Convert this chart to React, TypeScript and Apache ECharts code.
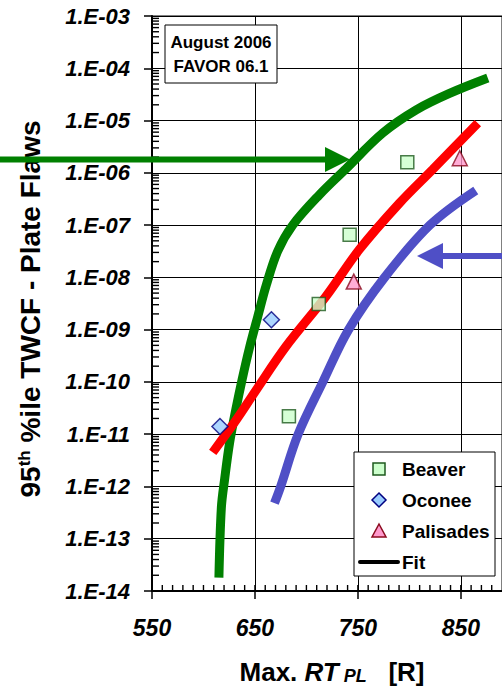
import React, { useEffect, useRef } from 'react';
import * as echarts from 'echarts';

// ---- data ----
const xTickValues = [550, 650, 750, 850];
const yDecadeExps = [-14, -13, -12, -11, -10, -9, -8, -7, -6, -5, -4, -3];

const beaverPts: [number, number][] = [
  [798, 1.6e-6],
  [742, 6.5e-8],
  [712, 3.1e-9],
  [683, 2.2e-11],
];
const oconeePts: [number, number][] = [
  [666, 1.55e-9],
  [616, 1.4e-11],
];
const palisadesPts: [number, number][] = [
  [849, 1.9e-6],
  [746, 8.3e-9],
];

const greenFit: [number, number][] = [
  [615, 1.8e-14], [617.4, 4.0e-13], [620.6, 1.4e-12], [625.5, 7.1e-12],
  [631.5, 3.0e-11], [637.5, 1.1e-10], [644.7, 4.5e-10], [652.8, 1.8e-9],
  [661, 7.1e-9], [672.2, 3.2e-8], [686.7, 1.0e-7], [712.6, 3.8e-7],
  [738.5, 1.2e-6], [774.3, 5.8e-6], [806.7, 1.6e-5], [839, 3.3e-5], [876.2, 6.5e-5],
];
const redFit: [number, number][] = [
  [609, 4.5e-12], [632, 1.9e-11], [651.4, 7.1e-11], [680.3, 4.8e-10],
  [718.9, 4.3e-9], [751.4, 3.4e-8], [790.2, 2.6e-7], [822.5, 1.15e-6], [866.5, 8.9e-6],
];
const blueFit: [number, number][] = [
  [669, 4.8e-13], [675, 1.0e-12], [692, 1.0e-11], [716, 1.0e-10],
  [741, 1.0e-9], [776, 1.0e-8], [820, 1.0e-7], [864.5, 4.6e-7],
];

const legendNames = ['Beaver', 'Oconee', 'Palisades', 'Fit'];
const noteLines = ['August 2006', 'FAVOR 06.1'];

const FONT = '"Liberation Sans", Arial, Helvetica, sans-serif';
const GREEN = '#008000';
const RED = '#FF0000';
const BLUE = '#4F4FC6';

const X_MIN = 550;
const X_MAX = 890;
const Y_MIN = 1e-14;
const Y_MAX = 1e-3;

const decadeValues = yDecadeExps.map((e) => Math.pow(10, e));
const minorYValues: number[] = [];
for (let e = -14; e < -3; e++) {
  for (let m = 2; m <= 9; m++) minorYValues.push(Number((m * Math.pow(10, e)).toPrecision(3)));
}
const minorXValues: number[] = [];
for (let v = 560; v < X_MAX; v += 10) minorXValues.push(v);

function fmtExp(v: number) {
  const e = Math.round(Math.log10(v));
  const a = Math.abs(e);
  return '1.E' + (e < 0 ? '-' : '+') + (a < 10 ? '0' + a : String(a));
}

export default function App() {
  const ref = useRef<HTMLDivElement>(null);
  useEffect(() => {
    if (!ref.current) return;
    const chart = echarts.init(ref.current, undefined, { renderer: 'svg' });
    const gridLeft = 152;
    const gridTop = 16;
    const gridW = 351;
    const gridH = 575;

    const legendX = 354, legendY = 452, legendW = 141, legendH = 124;
    const rowY = [469, 500, 531, 562];
    const symX = 379;
    const txtX = 402;

    const option: any = {
      animation: false,
      backgroundColor: '#fff',
      grid: {
        left: gridLeft, top: gridTop, width: gridW, height: gridH,
        show: true, borderColor: '#000', borderWidth: 1, backgroundColor: 'transparent',
      },
      xAxis: {
        type: 'value', min: X_MIN, max: X_MAX, position: 'bottom',
        axisLine: { show: true, onZero: false, lineStyle: { color: '#000', width: 2 } },
        axisTick: { show: true, inside: false, length: 8, customValues: xTickValues, lineStyle: { color: '#000', width: 1.5 } },
        axisLabel: {
          customValues: xTickValues, margin: 25, color: '#000', fontSize: 23,
          fontWeight: 'bold', fontStyle: 'italic', fontFamily: FONT,
        },
        splitLine: { show: true, lineStyle: { color: '#000', width: 1 } },
      },
      yAxis: {
        type: 'log', logBase: 10, min: Y_MIN, max: Y_MAX, position: 'left',
        axisLine: { show: true, onZero: false, lineStyle: { color: '#000', width: 2 } },
        axisTick: { show: true, inside: false, length: 8, customValues: decadeValues, lineStyle: { color: '#000', width: 1.5 } },
        axisLabel: {
          customValues: decadeValues, formatter: fmtExp, margin: 22, color: '#000',
          fontSize: 22, fontWeight: 'bold', fontStyle: 'italic', fontFamily: FONT,
        },
        splitLine: { show: true, lineStyle: { color: '#000', width: 1 } },
      },
      series: [
        {
          name: 'green fit', type: 'line', data: greenFit, smooth: 0.35, showSymbol: false,
          lineStyle: { color: GREEN, width: 9, cap: 'butt' }, z: 3,
        },
        {
          name: 'red fit', type: 'line', data: redFit, smooth: 0.35, showSymbol: false,
          lineStyle: { color: RED, width: 9, cap: 'butt' }, z: 3,
        },
        {
          name: 'blue fit', type: 'line', data: blueFit, smooth: 0.35, showSymbol: false,
          lineStyle: { color: BLUE, width: 9, cap: 'butt' }, z: 3,
        },
        {
          name: legendNames[0], type: 'scatter', data: beaverPts, symbol: 'rect', symbolSize: 13,
          itemStyle: { color: '#CCFFCC', borderColor: '#1E5A1E', borderWidth: 1.5 }, z: 4,
        },
        {
          name: legendNames[1], type: 'scatter', data: oconeePts, symbol: 'diamond', symbolSize: 16,
          itemStyle: { color: '#99CCFF', borderColor: '#000080', borderWidth: 1.5 }, z: 4,
        },
        {
          name: legendNames[2], type: 'scatter', data: palisadesPts, symbol: 'triangle', symbolSize: 15,
          itemStyle: { color: '#FF99CC', borderColor: '#8B0A1E', borderWidth: 1.5 }, z: 4,
        },
        {
          // minor ticks of the log y axis (inside, at the left edge)
          name: 'y minor ticks', type: 'scatter', silent: true, clip: false, z: 6,
          data: minorYValues.map((v) => [X_MIN, v]),
          symbol: 'rect', symbolSize: [7, 1.4], symbolOffset: [3.5, 0],
          itemStyle: { color: '#000', borderWidth: 0, opacity: 1 },
          emphasis: { disabled: true },
        },
        {
          // minor ticks of the x axis (inside, at the bottom edge)
          name: 'x minor ticks', type: 'scatter', silent: true, clip: false, z: 6,
          data: minorXValues.map((v) => [v, Y_MIN]),
          symbol: 'rect', symbolSize: [1.4, 6], symbolOffset: [0, -3],
          itemStyle: { color: '#000', borderWidth: 0, opacity: 1 },
          emphasis: { disabled: true },
        },
      ],
      graphic: [
        // annotation box
        {
          type: 'rect', z: 50, shape: { x: 165, y: 25, width: 112, height: 58 },
          style: { fill: '#fff', stroke: '#000', lineWidth: 1 },
        },
        {
          type: 'text', z: 51, x: 221, y: 54,
          style: {
            text: noteLines.join('\n'), fill: '#000', fontSize: 17, fontWeight: 'bold',
            fontFamily: FONT, align: 'center', verticalAlign: 'middle', lineHeight: 24,
          },
        },
        // legend
        {
          type: 'rect', z: 50, shape: { x: legendX, y: legendY, width: legendW, height: legendH },
          style: { fill: '#fff', stroke: '#000', lineWidth: 1 },
        },
        {
          type: 'rect', z: 51, shape: { x: symX - 6, y: rowY[0] - 6, width: 12, height: 12 },
          style: { fill: '#CCFFCC', stroke: '#1E5A1E', lineWidth: 1.5 },
        },
        {
          type: 'polygon', z: 51,
          shape: { points: [[symX, rowY[1] - 7], [symX + 7, rowY[1]], [symX, rowY[1] + 7], [symX - 7, rowY[1]]] },
          style: { fill: '#99CCFF', stroke: '#000080', lineWidth: 1.5 },
        },
        {
          type: 'polygon', z: 51,
          shape: { points: [[symX, rowY[2] - 7], [symX + 7, rowY[2] + 6], [symX - 7, rowY[2] + 6]] },
          style: { fill: '#FF99CC', stroke: '#8B0A1E', lineWidth: 1.5 },
        },
        {
          type: 'line', z: 51, shape: { x1: 360, y1: rowY[3], x2: 398, y2: rowY[3] },
          style: { stroke: '#000', lineWidth: 4, lineCap: 'round' },
        },
        ...legendNames.map((n, i) => ({
          type: 'text', z: 51, x: txtX, y: rowY[i],
          style: {
            text: n, fill: '#000', fontSize: 19, fontWeight: 'bold', fontFamily: FONT,
            align: 'left', verticalAlign: 'middle',
          },
        })),
        // arrows
        {
          type: 'line', z: 60, shape: { x1: 0, y1: 159.5, x2: 328, y2: 159.5 },
          style: { stroke: GREEN, lineWidth: 6 },
        },
        {
          type: 'polygon', z: 60,
          shape: { points: [[350, 159.5], [325, 147], [325, 172]] },
          style: { fill: GREEN },
        },
        {
          type: 'line', z: 60, shape: { x1: 440, y1: 256, x2: 502, y2: 256 },
          style: { stroke: BLUE, lineWidth: 6 },
        },
        {
          type: 'polygon', z: 60,
          shape: { points: [[417, 256], [443, 243], [443, 269]] },
          style: { fill: BLUE },
        },
        // axis titles
        {
          type: 'text', z: 40, x: 30, y: 309, rotation: Math.PI / 2,
          style: {
            text: '{n|95}{sup|th}{n| %ile TWCF - Plate Flaws}',
            fill: '#000', align: 'center', verticalAlign: 'middle',
            rich: {
              n: { fontSize: 28, fontWeight: 'bold', fontFamily: FONT, fill: '#000' },
              sup: { fontSize: 17, fontWeight: 'bold', fontFamily: FONT, fill: '#000', verticalAlign: 'top' },
            },
          },
        },
        {
          type: 'text', z: 40, x: 332, y: 672,
          style: {
            text: '{n|Max. }{i|RT}{s| PL}{n|   [R]}',
            fill: '#000', align: 'center', verticalAlign: 'middle',
            rich: {
              n: { fontSize: 26, fontWeight: 'bold', fontFamily: FONT, fill: '#000' },
              i: { fontSize: 26, fontWeight: 'bold', fontStyle: 'italic', fontFamily: FONT, fill: '#000' },
              s: { fontSize: 18, fontWeight: 'bold', fontStyle: 'italic', fontFamily: FONT, fill: '#000', verticalAlign: 'bottom' },
            },
          },
        },
      ],
    };
    chart.setOption(option);
    return () => chart.dispose();
  }, []);
  return (
    <div
      ref={ref}
      style={{ position: 'fixed', left: 0, top: 0, width: 502, height: 687, background: '#fff' }}
    />
  );
}
